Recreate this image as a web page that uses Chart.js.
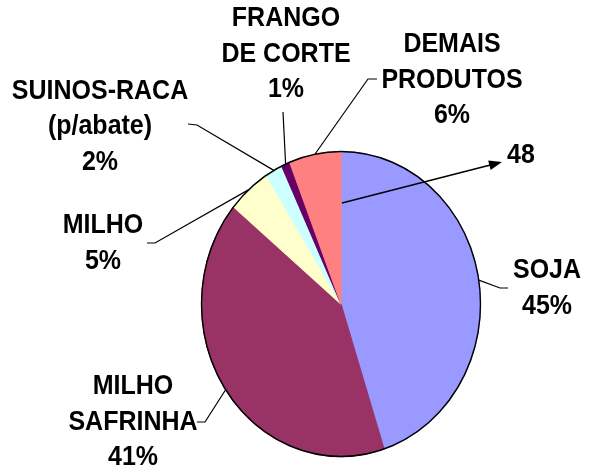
<!DOCTYPE html>
<html>
<head>
<meta charset="utf-8">
<script src="https://cdn.jsdelivr.net/npm/chart.js@4/dist/chart.umd.min.js"></script>
<style>
  body{margin:0;background:#fff;}
  canvas{display:block;}
</style>
</head>
<body>
<canvas id="pie" width="590" height="471"></canvas>
<script>

// data
const categories = [["SOJA"], ["MILHO","SAFRINHA"], ["MILHO"], ["SUINOS-RACA","(p/abate)"], ["FRANGO","DE CORTE"], ["DEMAIS","PRODUTOS"]];
const shares = [45, 41, 5, 2, 1, 6];
const sliceColors = ["#9999FF", "#993366", "#FFFFCC", "#CCFFFF", "#660066", "#FF8080"];
const arrowText = "48";

// where excel left the labels (center x, first line y) and leader elbows
const labelLayout = [
  {x:547, y:271, elbow:[500,288], end:[508,288]},
  {x:133, y:387, elbow:[205,422], end:[197,422]},
  {x:103, y:226, elbow:[155,243], end:[147,243]},
  {x:100, y:91.5, elbow:[197,125], end:[188,124]},
  {x:286, y:19, elbow:[283,112], end:null},
  {x:452, y:45, elbow:[368,79], end:[377,79]}
];
const lineHeight = 35.5;
const stretchY = 1.093;   // the pie is a bit taller than wide
const textStretch = 1.07; // and so is the lettering
const font = "bold 25px 'Liberation Sans', Arial, sans-serif";

function tallText(ctx, t, x, y){
  ctx.save();
  ctx.translate(x, y);
  ctx.scale(1, textStretch);
  ctx.fillText(t, 0, 0);
  ctx.restore();
}

const ovalPlugin = {
  id:"oval",
  beforeDatasetsDraw(chart){
    const a = chart.getDatasetMeta(0).data[0];
    const ctx = chart.ctx;
    ctx.save();
    ctx.translate(a.x, a.y);
    ctx.scale(1, stretchY);
    ctx.translate(-a.x, -a.y);
  },
  afterDatasetsDraw(chart){
    const a = chart.getDatasetMeta(0).data[0];
    const ctx = chart.ctx;
    ctx.beginPath();
    ctx.arc(a.x, a.y, a.outerRadius, 0, Math.PI*2);
    ctx.lineWidth = 1.4;
    ctx.strokeStyle = "#000";
    ctx.stroke();
    ctx.restore();
  }
};

const labelPlugin = {
  id:"labels",
  afterDraw(chart){
    const ctx = chart.ctx;
    const arcs = chart.getDatasetMeta(0).data;
    const total = shares.reduce((s,v)=>s+v,0);

    ctx.save();
    ctx.strokeStyle = "#000";
    ctx.lineWidth = 1.2;
    ctx.font = font;
    ctx.fillStyle = "#000";
    ctx.textAlign = "center";
    ctx.textBaseline = "middle";
    arcs.forEach((a,i)=>{
      const mid = (a.startAngle + a.endAngle)/2;
      const px = a.x + a.outerRadius*Math.cos(mid);
      const py = a.y + a.outerRadius*stretchY*Math.sin(mid);
      const L = labelLayout[i];
      ctx.beginPath();
      ctx.moveTo(px, py);
      ctx.lineTo(L.elbow[0], L.elbow[1]);
      if(L.end) ctx.lineTo(L.end[0], L.end[1]);
      ctx.stroke();

      const lines = categories[i].concat([Math.round(shares[i]/total*100) + "%"]);
      lines.forEach((t,j)=>tallText(ctx, t, L.x, L.y + j*lineHeight));
    });

    // arrow from inside the soja slice out to the "48"
    const c = arcs[0];
    const sx = c.x + 1, sy = c.y - 101;
    const tx = 502, ty = 162;
    const ang = Math.atan2(ty-sy, tx-sx);
    ctx.lineWidth = 1.5;
    ctx.beginPath();
    ctx.moveTo(sx, sy);
    ctx.lineTo(tx - 10*Math.cos(ang), ty - 10*Math.sin(ang));
    ctx.stroke();
    ctx.beginPath();
    ctx.moveTo(tx, ty);
    ctx.lineTo(tx - 13*Math.cos(ang) + 5*Math.sin(ang), ty - 13*Math.sin(ang) - 5*Math.cos(ang));
    ctx.lineTo(tx - 13*Math.cos(ang) - 5*Math.sin(ang), ty - 13*Math.sin(ang) + 5*Math.cos(ang));
    ctx.closePath();
    ctx.fill();
    tallText(ctx, arrowText, 521, 156);
    ctx.restore();
  }
};

new Chart(document.getElementById("pie"), {
  type:"pie",
  data:{
    labels:categories,
    datasets:[{
      data:shares,
      backgroundColor:sliceColors,
      borderColor:sliceColors,
      borderWidth:1
    }]
  },
  options:{
    responsive:false,
    animation:false,
    layout:{padding:{left:201, right:109, top:164, bottom:27}},
    plugins:{legend:{display:false}, tooltip:{enabled:false}}
  },
  plugins:[ovalPlugin, labelPlugin]
});
</script>
</body>
</html>
